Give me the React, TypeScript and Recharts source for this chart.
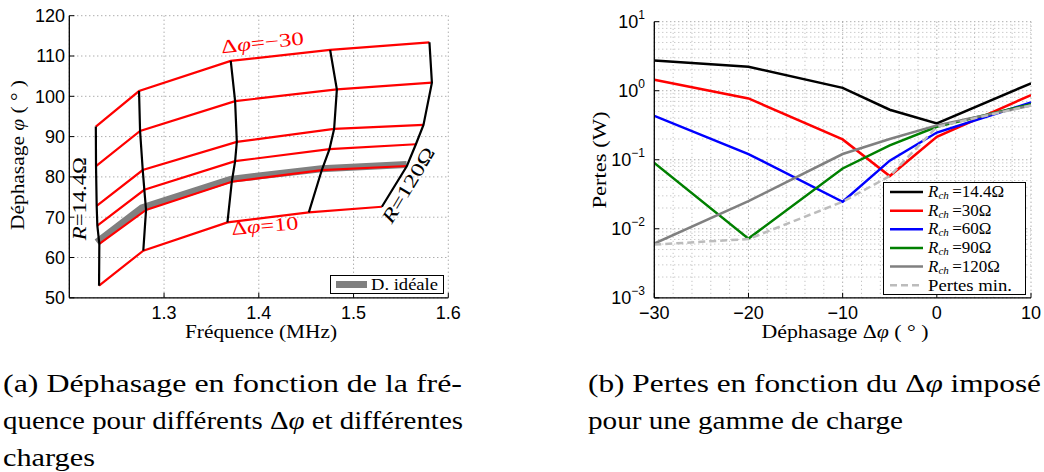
import React from 'react';
import {
  ComposedChart, Line, XAxis, YAxis, CartesianGrid, ReferenceLine, ReferenceDot, Legend,
} from 'recharts';

const SERIF = 'Liberation Serif, DejaVu Serif, serif';
const SANS = 'Liberation Sans, Arial, sans-serif';

// ---- (a) déphasage vs fréquence ----
const dphiSteps = [-30, -20, -10, -5, 0, 10];
const loadNames = ['14.4', '30', '60', '90', '120'];
// one pair per load, values in dphiSteps order
const freqR14 = [1.228, 1.2282, 1.2289, 1.2296, 1.2317, 1.2314];
const phaseR14 = [92.5, 82.7, 72.8, 67.9, 63.4, 53.0];
const freqR30 = [1.2736, 1.2747, 1.2775, 1.2792, 1.281, 1.2781];
const phaseR30 = [101.3, 91.4, 81.7, 76.8, 71.8, 61.7];
const freqR60 = [1.3704, 1.375, 1.3768, 1.375, 1.3715, 1.3669];
const phaseR60 = [108.8, 98.8, 88.7, 83.9, 78.8, 68.7];
const freqR90 = [1.4753, 1.4824, 1.4795, 1.4746, 1.4665, 1.4528];
const phaseR90 = [111.5, 101.7, 91.9, 86.9, 81.7, 71.2];
const freqR120 = [1.5801, 1.5827, 1.5738, 1.5658, 1.5563, 1.5299];
const phaseR120 = [113.4, 103.4, 92.9, 88.1, 82.7, 72.6];
const idealFreq = [1.229, 1.2765, 1.37, 1.466, 1.556];
const idealPhase = [63.8, 72.3, 79.4, 82.0, 83.1];
const freqTicks = [1.3, 1.4, 1.5, 1.6];
const phaseTicks = [50, 60, 70, 80, 90, 100, 110, 120];

// ---- (b) pertes vs déphasage ----
const dphiPoints = [-30, -20, -10, -5, 0, 10];
const lossR14 = [2.73, 2.23, 1.1, 0.53, 0.335, 1.28];
const lossR30 = [1.44, 0.774, 0.197, 0.058, 0.215, 0.866];
const lossR60 = [0.433, 0.121, 0.0246, 0.097, 0.248, 0.675];
const lossR90 = [0.09, 0.0072, 0.0748, 0.162, 0.3, 0.64];
const lossR120 = [0.0061, 0.0252, 0.121, 0.2, 0.315, 0.612];
const lossMin = [0.0059, 0.0071, 0.0246, 0.058, 0.3, 0.612];
const dphiTicks = [-30, -20, -10, 0, 10];
const lossTicks = [0.001, 0.01, 0.1, 1, 10];
const lossExp = ['\u22123', '\u22122', '\u22121', '0', '1'];

const freqByLoad = [freqR14, freqR30, freqR60, freqR90, freqR120];
const phaseByLoad = [phaseR14, phaseR30, phaseR60, phaseR90, phaseR120];
const loadCurves = loadNames.map((_, i) => dphiSteps.map((_d, j) => ({ f: freqByLoad[i][j], p: phaseByLoad[i][j] })));
const dphiCurves = dphiSteps.map((_d, j) => loadNames.map((_, i) => ({ f: freqByLoad[i][j], p: phaseByLoad[i][j] })));
const idealCurve = idealFreq.map((f, k) => ({ f, p: idealPhase[k] }));

const lossRows = dphiPoints.map((d, j) => ({
  d, r14: lossR14[j], r30: lossR30[j], r60: lossR60[j], r90: lossR90[j], r120: lossR120[j], min: lossMin[j],
}));
const lossSeries = [
  { key: 'r14', name: '14.4', color: '#000000' },
  { key: 'r30', name: '30', color: '#ff0000' },
  { key: 'r60', name: '60', color: '#0000ff' },
  { key: 'r90', name: '90', color: '#008000' },
  { key: 'r120', name: '120', color: '#808080' },
  { key: 'min', name: 'Pertes min.', color: '#bcbcbc', dash: '7 4' },
];

// minor grid of the log plot
const minorLoss: number[] = [];
[0.001, 0.01, 0.1, 1].forEach((dec) => { for (let m = 2; m <= 9; m++) minorLoss.push(+(dec * m).toPrecision(3)); });
const minorDphi: number[] = [];
for (let v = -28; v < 10; v += 2) if (v % 10 !== 0) minorDphi.push(v);

const tickFont = { fill: '#000', fontSize: 18, fontFamily: SANS };
const axisLine = { stroke: '#000', strokeWidth: 1.3 };
const serif = { fontFamily: SERIF };
const minus = (v: number) => (v < 0 ? '\u2212' + Math.abs(v) : String(v));

const IdealLegend = () => (
  <svg width={114} height={19} style={{ display: 'block' }}>
    <rect x={0.5} y={0.5} width={113} height={18} fill="#fff" stroke="#000" />
    <line x1={6} x2={37} y1={9.5} y2={9.5} stroke="#808080" strokeWidth={7} />
    <text x={41} y={15} style={serif} fontSize={17} textLength={67} lengthAdjust="spacingAndGlyphs">D. idéale</text>
  </svg>
);

const LossLegend = () => (
  <svg width={143} height={113} style={{ display: 'block' }}>
    <rect x={0.5} y={0.5} width={142} height={112} fill="#fff" stroke="#000" />
    {lossSeries.map((s, k) => {
      const cy = 10 + k * 18.65;
      return (
        <g key={s.key}>
          <line x1={7} x2={40} y1={cy} y2={cy} stroke={s.color} strokeWidth={2.5} strokeDasharray={s.dash} />
          {s.dash ? (
            <text x={45} y={cy + 5.5} style={serif} fontSize={17} textLength={84} lengthAdjust="spacingAndGlyphs">{s.name}</text>
          ) : (
            <text x={45} y={cy + 5} style={serif} fontSize={17}>
              <tspan fontStyle="italic">R</tspan>
              <tspan fontStyle="italic" fontSize={11} dy={2}>ch</tspan>
              <tspan dy={-2}>{'\u2009=' + s.name + '\u03a9'}</tspan>
            </text>
          )}
        </g>
      );
    })}
  </svg>
);

const LogTick = (props: any) => {
  const { x, y, payload } = props;
  const k = lossTicks.indexOf(payload.value);
  return (
    <text x={x} y={y + 6.5} textAnchor="end" fontFamily={SANS} fontSize={18} fill="#000">
      10<tspan fontSize={12} dy={-9.5}>{lossExp[k]}</tspan>
    </text>
  );
};

const label = (angle: number, len: number, color: string, parts: React.ReactNode) => (p: any) => (
  <text
    transform={`translate(${p.cx},${p.cy}) rotate(${angle})`}
    style={serif} fontSize={19} fill={color} textLength={len} lengthAdjust="spacingAndGlyphs"
  >
    {parts}
  </text>
);

function PhaseChart() {
  return (
    <ComposedChart width={470} height={340} margin={{ top: 15.7, right: 21.7, bottom: 12.2, left: 0 }}>
      <CartesianGrid stroke="#8a8a8a" strokeDasharray="1 3" />
      <XAxis
        type="number" dataKey="f" domain={[1.2, 1.6]} ticks={freqTicks} allowDataOverflow height={30}
        tickSize={-5} tickMargin={13.5} tick={tickFont} tickLine={{ stroke: '#000' }} axisLine={axisLine}
        tickFormatter={(v: number) => v.toFixed(1)}
      />
      <YAxis
        type="number" domain={[50, 120]} ticks={phaseTicks} allowDataOverflow width={69.3}
        tickSize={-5} tickMargin={9.3} tick={tickFont} tickLine={{ stroke: '#000' }} axisLine={axisLine}
      />
      <Line data={idealCurve} dataKey="p" type="linear" stroke="#808080" strokeWidth={7} dot={false} isAnimationActive={false} />
      {dphiCurves.map((c, j) => (
        <Line key={'d' + j} data={c} dataKey="p" type="linear" stroke="#ff0000" strokeWidth={2.2} dot={false} isAnimationActive={false} />
      ))}
      {loadCurves.map((c, i) => (
        <Line key={'r' + i} data={c} dataKey="p" type="linear" stroke="#000" strokeWidth={2.2} dot={false} isAnimationActive={false} />
      ))}
      <ReferenceDot x={1.361} y={110.7} r={0} shape={label(-6, 83, '#ff0000', <>
        <tspan>Δ</tspan><tspan fontStyle="italic">φ</tspan><tspan>{'=\u221230'}</tspan></>)} />
      <ReferenceDot x={1.3718} y={65.6} r={0} shape={label(-5, 67, '#ff0000', <>
        <tspan>Δ</tspan><tspan fontStyle="italic">φ</tspan><tspan>{'=10'}</tspan></>)} />
      <ReferenceDot x={1.2176} y={64.3} r={0} shape={label(-90, 83, '#000', <>
        <tspan fontStyle="italic">R</tspan><tspan>{'=14.4\u03a9'}</tspan></>)} />
      <ReferenceDot x={1.5404} y={68.1} r={0} shape={label(-59, 85, '#000', <>
        <tspan fontStyle="italic">R</tspan><tspan>{'=120\u03a9'}</tspan></>)} />
      <Legend
        layout="vertical" align="center" verticalAlign="middle" content={IdealLegend}
        wrapperStyle={{ left: 330, top: 274.5, width: 114, height: 19 }}
      />
    </ComposedChart>
  );
}

function LossChart() {
  return (
    <ComposedChart width={504} height={340} data={lossRows} margin={{ top: 21.7, right: 13, bottom: 12.2, left: 0 }}>
      {minorLoss.map((v) => (
        <ReferenceLine key={'my' + v} y={v} stroke="#b4b4b4" strokeDasharray="1 3" />
      ))}
      {minorDphi.map((v) => (
        <ReferenceLine key={'mx' + v} x={v} stroke="#b4b4b4" strokeDasharray="1 3" />
      ))}
      <CartesianGrid stroke="#8a8a8a" strokeDasharray="1 3" />
      <XAxis
        type="number" dataKey="d" domain={[-30, 10]} ticks={dphiTicks} allowDataOverflow height={30}
        tickSize={-5} tickMargin={13.5} tick={tickFont} tickLine={{ stroke: '#000' }} axisLine={axisLine}
        tickFormatter={minus}
      />
      <YAxis
        type="number" scale="log" domain={[0.001, 10]} ticks={lossTicks} allowDataOverflow width={114.3}
        tickSize={-5} tickMargin={14.3} tick={LogTick} tickLine={{ stroke: '#000' }} axisLine={axisLine}
      />
      {lossSeries.map((s) => (
        <Line
          key={s.key} dataKey={s.key} type="linear" stroke={s.color} strokeWidth={2.5}
          strokeDasharray={s.dash} dot={false} isAnimationActive={false}
        />
      ))}
      <Legend
        layout="vertical" align="center" verticalAlign="middle" content={LossLegend}
        wrapperStyle={{ left: 343.3, top: 181.7, width: 143, height: 113 }}
      />
    </ComposedChart>
  );
}

const T = (props: any) => <text style={serif} fill="#000" lengthAdjust="spacingAndGlyphs" {...props} />;

function Texts() {
  return (
    <svg width={1044} height={472}
      style={{ position: 'absolute', left: 0, top: 0, pointerEvents: 'none' }}>
      <T transform="translate(24,155) rotate(-90)" textAnchor="middle" fontSize={18} textLength={150}>
        Déphasage <tspan fontStyle="italic">φ</tspan> ( ° )
      </T>
      <T x={261} y={338} textAnchor="middle" fontSize={18} textLength={152}>Fréquence (MHz)</T>
      <T transform="translate(606,160) rotate(-90)" textAnchor="middle" fontSize={18} textLength={97}>Pertes (W)</T>
      <T x={845} y={338} textAnchor="middle" fontSize={18} textLength={167}>
        Déphasage Δ<tspan fontStyle="italic">φ</tspan> ( ° )
      </T>

      <T x={3} y={392} fontSize={26} textLength={459}>(a) Déphasage en fonction de la fré-</T>
      <T x={3} y={429} fontSize={26} textLength={460}>
        quence pour différents Δ<tspan fontStyle="italic">φ</tspan> et différentes
      </T>
      <T x={3} y={466} fontSize={26} textLength={92}>charges</T>
      <T x={588} y={392} fontSize={26} textLength={453}>
        (b) Pertes en fonction du Δ<tspan fontStyle="italic">φ</tspan> imposé
      </T>
      <T x={588} y={429} fontSize={26} textLength={315}>pour une gamme de charge</T>
    </svg>
  );
}

export default function App() {
  return (
    <div style={{ position: 'absolute', left: 0, top: 0, width: 1044, height: 472, background: '#fff', overflow: 'hidden' }}>
      <div style={{ position: 'absolute', left: 0, top: 0 }}>
        <PhaseChart />
      </div>
      <div style={{ position: 'absolute', left: 540, top: 0 }}>
        <LossChart />
      </div>
      <Texts />
    </div>
  );
}
